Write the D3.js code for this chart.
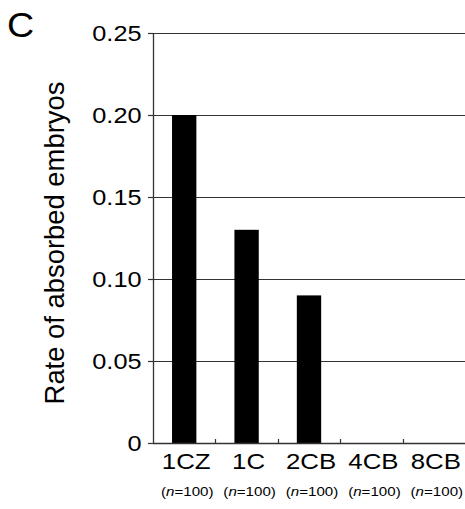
<!DOCTYPE html>
<html>
<head>
<meta charset="utf-8">
<script src="https://cdn.jsdelivr.net/npm/d3@7"></script>
<style>
  html, body { margin: 0; padding: 0; background: #fff; }
  svg { display: block; }
  text { font-family: "Liberation Sans", Arial, Helvetica, sans-serif; fill: #000; }
</style>
</head>
<body>
<svg id="chart" width="465" height="509"></svg>
<script>
const categories = ["1CZ", "1C", "2CB", "4CB", "8CB"];
const values = [0.20, 0.13, 0.09, 0, 0];
const sampleSizes = [100, 100, 100, 100, 100];
const yTicks = [0, 0.05, 0.10, 0.15, 0.20, 0.25];
const yTickLabels = ["0", "0.05", "0.10", "0.15", "0.20", "0.25"];
const yLabel = "Rate of absorbed embryos";
const panelLabel = "C";

(function () {
const svg = d3.select("#chart");
const pLeft = 153, pRight = 465, pTop = 33, pBottom = 443;
const axisColor = "#333";

const y = d3.scaleLinear().domain([0, 0.25]).range([pBottom, pTop]);
const x = d3.scaleBand().domain(categories).range([pLeft, pRight])
  .paddingInner(0.61).paddingOuter(0.305);
const step = x.step();

// gridlines
svg.append("g").selectAll("line").data(yTicks.filter(d => d > 0)).join("line")
  .attr("x1", pLeft).attr("x2", pRight)
  .attr("y1", d => Math.round(y(d)) + 0.5).attr("y2", d => Math.round(y(d)) + 0.5)
  .attr("stroke", axisColor).attr("stroke-width", 1);

// bars
svg.append("g").selectAll("rect").data(categories).join("rect")
  .attr("x", d => x(d))
  .attr("width", x.bandwidth())
  .attr("y", (d, i) => y(values[i]))
  .attr("height", (d, i) => y(0) - y(values[i]))
  .attr("fill", "#000");

// y axis
svg.append("line").attr("x1", pLeft + 0.5).attr("x2", pLeft + 0.5)
  .attr("y1", pTop).attr("y2", pBottom + 1).attr("stroke", axisColor).attr("stroke-width", 1.3);
svg.append("g").selectAll("line").data(yTicks).join("line")
  .attr("x1", pLeft - 5).attr("x2", pLeft)
  .attr("y1", d => Math.round(y(d)) + 0.5).attr("y2", d => Math.round(y(d)) + 0.5)
  .attr("stroke", axisColor).attr("stroke-width", 1.2);
svg.append("g").selectAll("text").data(yTicks).join("text")
  .attr("transform", d => `translate(141.5,${y(d)}) scale(1.15,1)`)
  .attr("text-anchor", "end").attr("dy", "0.36em")
  .style("font-size", "22px")
  .text((d, i) => yTickLabels[i]);

// x axis
svg.append("line").attr("x1", pLeft).attr("x2", pRight)
  .attr("y1", pBottom + 0.5).attr("y2", pBottom + 0.5).attr("stroke", axisColor).attr("stroke-width", 1.3);
svg.append("g").selectAll("line").data(categories.slice(1)).join("line")
  .attr("x1", d => Math.round(x(d) - (step - x.bandwidth()) / 2) + 0.5)
  .attr("x2", d => Math.round(x(d) - (step - x.bandwidth()) / 2) + 0.5)
  .attr("y1", pBottom - 4).attr("y2", pBottom)
  .attr("stroke", axisColor).attr("stroke-width", 1.2);

// x labels
svg.append("g").selectAll("text").data(categories).join("text")
  .attr("transform", d => `translate(${x(d) + x.bandwidth() / 2 + 2},468.5) scale(1.2,1)`)
  .attr("text-anchor", "middle")
  .style("font-size", "21.5px")
  .text(d => d);

// n labels
const nl = svg.append("g").selectAll("text").data(categories).join("text")
  .attr("transform", d => `translate(${x(d) + x.bandwidth() / 2 + 3},496) scale(1.12,1)`)
  .attr("text-anchor", "middle")
  .style("font-size", "13.5px");
nl.append("tspan").text("(");
nl.append("tspan").style("font-style", "italic").text("n");
nl.append("tspan").text((d, i) => "=" + sampleSizes[i] + ")");

// y label
svg.append("text")
  .attr("transform", `translate(63.5,243) rotate(-90)`)
  .attr("text-anchor", "middle")
  .style("font-size", "27.4px")
  .text(yLabel);

// panel label
svg.append("text")
  .attr("transform", "translate(7,37) scale(1.06,1)")
  .style("font-size", "35.5px")
  .text(panelLabel);
})();
</script>
</body>
</html>
